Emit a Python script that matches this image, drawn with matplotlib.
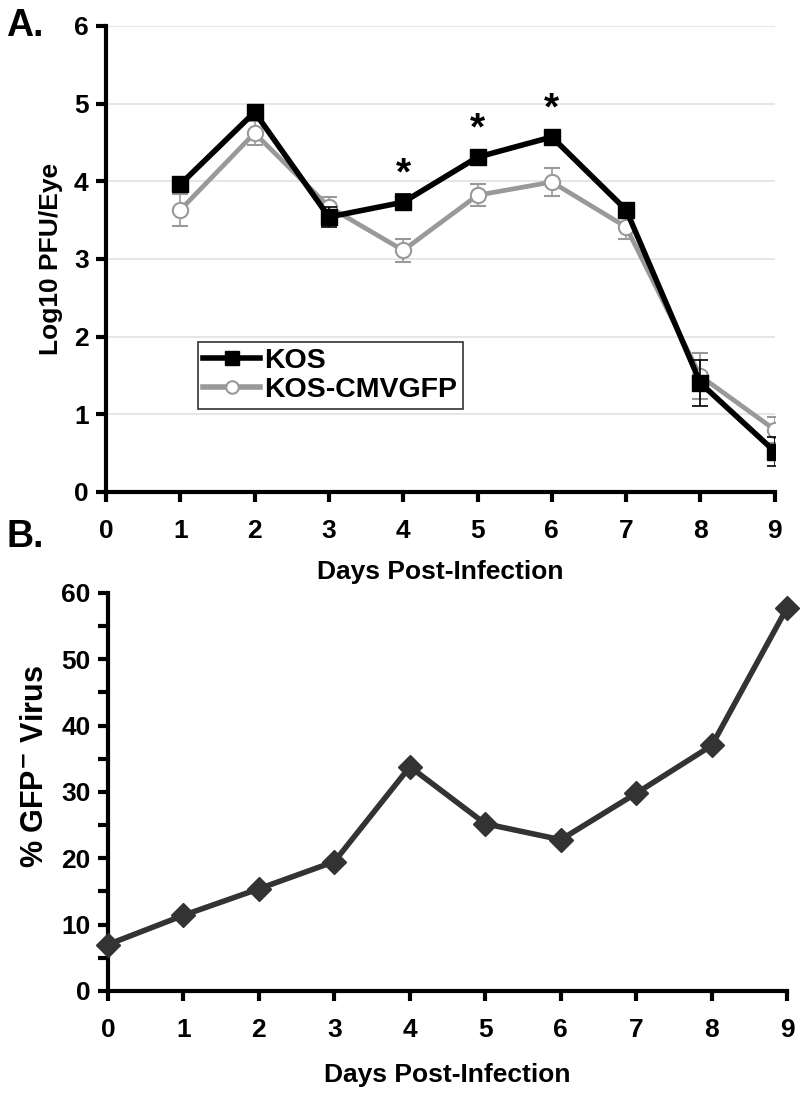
import matplotlib
matplotlib.use("Agg")
import matplotlib.pyplot as plt
from matplotlib.lines import Line2D

plt.rcParams['font.family'] = ['Liberation Sans', 'DejaVu Sans']
plt.rcParams['font.weight'] = 'bold'
plt.rcParams['mathtext.default'] = 'bf'

# Panel A: virus titre in the eye
days_a = [1, 2, 3, 4, 5, 6, 7, 8, 9]
kos = [3.96, 4.89, 3.54, 3.73, 4.31, 4.57, 3.63, 1.40, 0.52]
kos_err = [0.08, 0.06, 0.13, 0.10, 0.08, 0.06, 0.08, 0.30, 0.19]
gfp = [3.63, 4.62, 3.67, 3.11, 3.82, 3.99, 3.41, 1.49, 0.80]
gfp_err = [0.20, 0.15, 0.13, 0.15, 0.14, 0.18, 0.15, 0.30, 0.17]
star_days = [4, 5, 6]

# Panel B: percent GFP- virus
days_b = [0, 1, 2, 3, 4, 5, 6, 7, 8, 9]
pct_gfp = [7.0, 11.4, 15.4, 19.5, 33.8, 25.2, 22.8, 29.8, 37.0, 57.8]

fig = plt.figure(figsize=(8, 10.98), dpi=100)


def style_axes(ax):
    for side in ('top', 'right'):
        ax.spines[side].set_visible(False)
    for side in ('left', 'bottom'):
        ax.spines[side].set_linewidth(3)
    ax.tick_params(which='both', width=3, length=7.5, labelsize=19)
    ax.tick_params(axis='y', pad=5)
    ax.tick_params(axis='x', pad=12)
    for lbl in ax.get_xticklabels() + ax.get_yticklabels():
        lbl.set_fontweight('bold')


# --- Panel A ---
ax1 = fig.add_axes([0.1325, 0.552, 0.836, 0.4244])
ax1.set_xlim(0, 9)
ax1.set_ylim(0, 6)
ax1.set_xticks(range(0, 10))
ax1.set_yticks(range(0, 7))
ax1.yaxis.grid(True, color='#e2e2e2', linewidth=1.2)
ax1.set_axisbelow(True)

ax1.errorbar(days_a, gfp, yerr=gfp_err, color='#999999', lw=3.4,
             marker='o', ms=11, mfc='white', mec='#999999', mew=1.5,
             ecolor='#999999', elinewidth=1.2, capsize=6, capthick=1.2,
             zorder=3)
ax1.errorbar(days_a, kos, yerr=kos_err, color='black', lw=4,
             marker='s', ms=12, ecolor='black', elinewidth=1.2,
             capsize=6, capthick=1.2, zorder=4)

for d in star_days:
    i = days_a.index(d)
    ax1.text(d, kos[i] + 0.36, '*', ha='center', va='center',
             fontsize=28, fontweight='bold')

style_axes(ax1)
ax1.set_ylabel('Log10 PFU/Eye', fontsize=19, fontweight='bold', labelpad=8)
ax1.set_xlabel('Days Post-Infection', fontsize=19, fontweight='bold', labelpad=12)

handles = [
    Line2D([], [], color='black', lw=4, marker='s', ms=10),
    Line2D([], [], color='#999999', lw=4, marker='o', ms=9,
           mfc='white', mec='#999999', mew=1.5),
]
leg = ax1.legend(handles, ['KOS', 'KOS-CMVGFP'], loc='upper left',
                 bbox_to_anchor=(0.137, 0.322), fontsize=20.5, frameon=True,
                 fancybox=False, edgecolor='black', handlelength=2.0,
                 handletextpad=0.15, borderpad=0.2, labelspacing=0.12,
                 borderaxespad=0)
leg.get_frame().set_linewidth(1.2)
for t in leg.get_texts():
    t.set_fontweight('bold')

fig.text(0.008, 0.993, 'A.', fontsize=27, fontweight='bold', va='top')

# --- Panel B ---
ax2 = fig.add_axes([0.135, 0.0975, 0.849, 0.3625])
ax2.plot(days_b, pct_gfp, color='#333333', lw=4, marker='D', ms=12,
         clip_on=False, zorder=3)
ax2.set_xlim(0, 9)
ax2.set_ylim(0, 60)
ax2.set_xticks(range(0, 10))
ax2.set_yticks(range(0, 61, 10))
ax2.set_yticks(range(5, 60, 10), minor=True)
style_axes(ax2)
ax2.set_ylabel('% GFP$^{-}$ Virus', fontsize=22, fontweight='bold')
ax2.yaxis.set_label_coords(-0.085, 0.563)
ax2.set_xlabel('Days Post-Infection', fontsize=19, fontweight='bold', labelpad=15)

fig.text(0.008, 0.527, 'B.', fontsize=27, fontweight='bold', va='top')

fig.savefig('out.png', dpi=100)
